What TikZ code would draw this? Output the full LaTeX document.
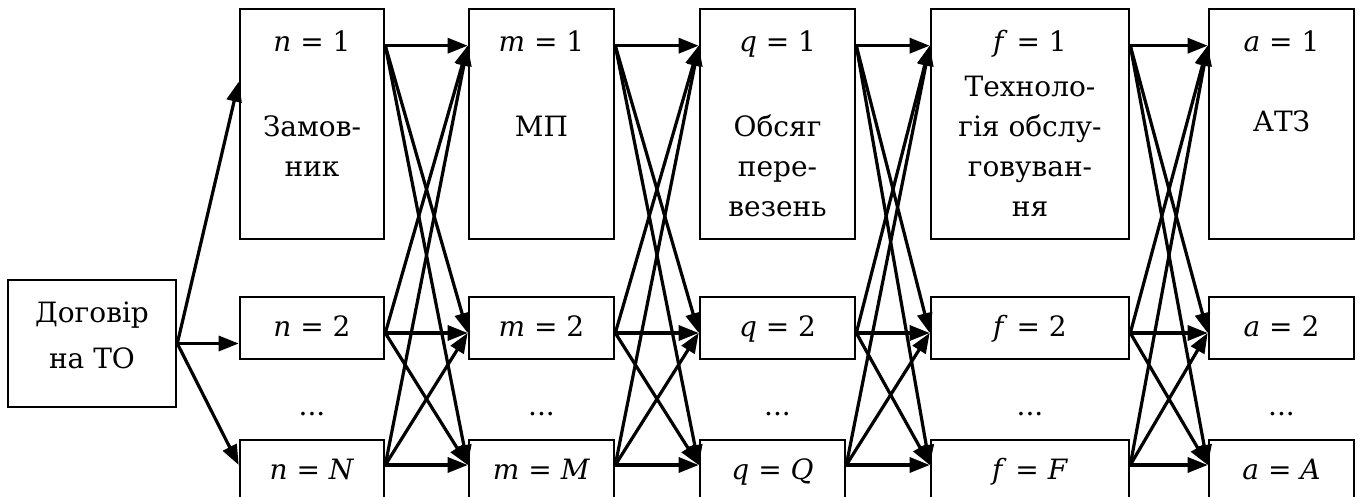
\documentclass[tikz,border=0pt]{standalone}
\usepackage{fontspec}
\setmainfont{DejaVu Serif}
\usetikzlibrary{arrows.meta, positioning, calc}

\tikzset{
  box/.style={draw, line width=1.3pt, inner sep=0pt},
  bigbox/.style={box, minimum height=115pt},
  smallbox/.style={box, minimum height=31pt, text height=11pt, text depth=3pt},
  lbl/.style={anchor=base, inner sep=0pt},
  desc/.style={anchor=base, align=center, inner sep=0pt},
  link/.style={line width=1.6pt, -{Triangle[length=10pt,width=7.5pt]}}
}

\begin{document}
\begin{tikzpicture}[x=0.5pt, y=-0.5pt, font=\fontsize{14}{20}\selectfont]
  \useasboundingbox (0,0) rectangle (1360,497);
  \clip (0,0) rectangle (1360,497);
  % start box
  \node[box, minimum width=84pt, minimum height=63.5pt] (dog) at (92,343.5) {};
  \node[desc] (dog-txt) at (92,368) {Договір\\[3pt]на ТО};
  % columns: top box, second box, last box
  \node[bigbox, minimum width=72pt] (n1) at (312,124) {};
  \node[smallbox, minimum width=72pt] (n2) at (312,328) {\textit{n} = 2};
  \node[smallbox, minimum width=72pt] (n3) at (312,471) {\textit{n} = \textit{N}};
  \node[lbl] (n1-lbl) at (312,52) {\textit{n} = 1};
  \node[desc] (n1-txt) at (312,177) {Замов-\\ник};
  \node[lbl] (n-dots) at (312,415) {...};

  \node[bigbox, minimum width=72.5pt] (m1) at (541.5,124) {};
  \node[smallbox, minimum width=72.5pt] (m2) at (541.5,328) {\textit{m} = 2};
  \node[smallbox, minimum width=72.5pt] (m3) at (541.5,471) {\textit{m} = \textit{M}};
  \node[lbl] (m1-lbl) at (541.5,52) {\textit{m} = 1};
  \node[desc] (m1-txt) at (541.5,137) {МП};
  \node[lbl] (m-dots) at (541.5,415) {...};

  \node[bigbox, minimum width=77.5pt] (q1) at (777.5,124) {};
  \node[smallbox, minimum width=77.5pt] (q2) at (777.5,328) {\textit{q} = 2};
  \node[smallbox, minimum width=72.5pt] (q3) at (772.5,471) {\textit{q} = \textit{Q}};
  \node[lbl] (q1-lbl) at (777.5,52) {\textit{q} = 1};
  \node[desc] (q1-txt) at (777.5,217) {Обсяг\\пере-\\везень};
  \node[lbl] (q-dots) at (777.5,415) {...};

  \node[bigbox, minimum width=99pt] (f1) at (1030,124) {};
  \node[smallbox, minimum width=99pt] (f2) at (1030,328) {\textit{f} = 2};
  \node[smallbox, minimum width=99pt] (f3) at (1030,471) {\textit{f} = \textit{F}};
  \node[lbl] (f1-lbl) at (1030,52) {\textit{f} = 1};
  \node[desc] (f1-txt) at (1030,217) {Техноло-\\гія обслу-\\говуван-\\ня};
  \node[lbl] (f-dots) at (1030,415) {...};

  \node[bigbox, minimum width=72.5pt] (a1) at (1281.5,124) {};
  \node[smallbox, minimum width=72.5pt] (a2) at (1281.5,328) {\textit{a} = 2};
  \node[smallbox, minimum width=72.5pt] (a3) at (1281.5,471) {\textit{a} = \textit{A}};
  \node[lbl] (a1-lbl) at (1281.5,52) {\textit{a} = 1};
  \node[desc] (a1-txt) at (1281.5,132) {АТЗ};
  \node[lbl] (a-dots) at (1281.5,415) {...};

  % where the arrows leave and enter
  \foreach \c in {n,m,q,f,a}{
    \coordinate (\c1-out) at ([yshift=-19pt]\c1.north east);
    \coordinate (\c1-in)  at ([yshift=-19pt]\c1.north west);
    \coordinate (\c2-out) at ([yshift=-2.5pt]\c2.east);
    \coordinate (\c2-in)  at ([yshift=-2.5pt]\c2.west);
    \coordinate (\c3-out) at ([yshift=3pt]\c3.east);
    \coordinate (\c3-in)  at ([yshift=3pt]\c3.west);
  }

  \draw[link] (dog.east) -- ([yshift=-37pt]n1.north west);
  \draw[link] (dog.east) -- (dog.east -| n2.west);
  \draw[link] (dog.east) -- (n3-in);

  % every box to every box of the next column
  \foreach \s/\t in {n/m, m/q, q/f, f/a}
    \foreach \i in {1,2,3}
      \foreach \j in {1,2,3}
        \draw[link] (\s\i-out) -- (\t\j-in);
\end{tikzpicture}
\end{document}
